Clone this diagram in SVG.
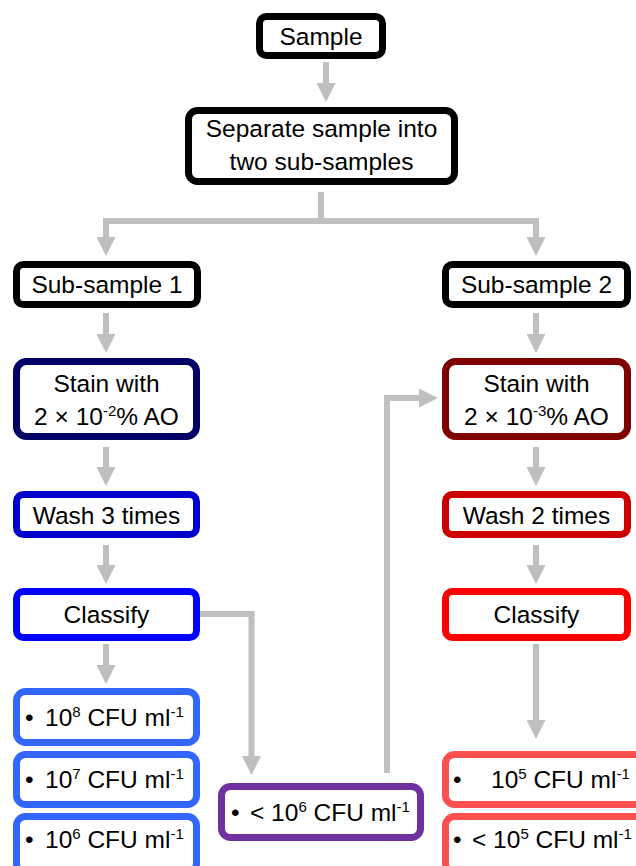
<svg xmlns="http://www.w3.org/2000/svg" width="636" height="866" viewBox="0 0 636 866">
<defs>
<style>
text{font-family:"Liberation Sans",Arial,sans-serif;font-size:24.5px;fill:#000;text-anchor:middle}
.l{text-anchor:start}
.sup{font-size:15px}
rect{fill:#fff;stroke-width:7}
.k{stroke:#000}
.c{fill:none;stroke:#bfbfbf;stroke-width:6}
</style>
<marker id="ah" markerUnits="userSpaceOnUse" markerWidth="19" markerHeight="19" refX="8" refY="9.5" orient="auto">
<path d="M0,0 L19,9.5 L0,19 z" fill="#bfbfbf"/>
</marker>
</defs>
<rect width="636" height="866" fill="#fff" stroke="none"/>
<g id="connectors">
<path class="c" d="M326,62 V91" marker-end="url(#ah)"/>
<path class="c" d="M321,192 V221"/>
<path class="c" d="M106,221 H536"/>
<path class="c" d="M106,218 V245" marker-end="url(#ah)"/>
<path class="c" d="M536,218 V245" marker-end="url(#ah)"/>
<path class="c" d="M106,313 V342" marker-end="url(#ah)"/>
<path class="c" d="M536,313 V342" marker-end="url(#ah)"/>
<path class="c" d="M106,447 V475" marker-end="url(#ah)"/>
<path class="c" d="M536,447 V475" marker-end="url(#ah)"/>
<path class="c" d="M106,545 V573" marker-end="url(#ah)"/>
<path class="c" d="M536,545 V573" marker-end="url(#ah)"/>
<path class="c" d="M106,644 V673" marker-end="url(#ah)"/>
<path class="c" d="M536,644 V728" marker-end="url(#ah)"/>
<path class="c" d="M200,614 H251.5 V764" marker-end="url(#ah)"/>
<path class="c" d="M387,773 V398 H427" marker-end="url(#ah)"/>
</g>
<g id="sample"><rect class="k" x="259.5" y="16.5" width="123" height="39" rx="7"/><text x="321" y="45">Sample</text></g>
<g id="separate"><rect class="k" x="188.5" y="110.5" width="266" height="71" rx="9"/><text x="321.5" y="137">Separate sample into</text><text x="321.5" y="170">two sub-samples</text></g>
<g id="sub1"><rect class="k" x="16.5" y="264.5" width="181" height="40" rx="7"/><text x="107" y="293">Sub-sample 1</text></g>
<g id="sub2"><rect class="k" x="445.5" y="264.5" width="182" height="40" rx="7"/><text x="536.5" y="293">Sub-sample 2</text></g>
<g id="stain1"><rect x="16.5" y="361.5" width="180" height="75" rx="10" stroke="#000066"/><text x="106.5" y="392">Stain with</text><text x="106.5" y="425">2 × 10<tspan class="sup" dy="-9">-2</tspan><tspan dy="9">% AO</tspan></text></g>
<g id="stain2"><rect x="445.5" y="361.5" width="182" height="75" rx="10" stroke="#7f0000"/><text x="536.5" y="392">Stain with</text><text x="536.5" y="425">2 × 10<tspan class="sup" dy="-9">-3</tspan><tspan dy="9">% AO</tspan></text></g>
<g id="wash1"><rect x="16.5" y="494.5" width="180" height="40" rx="7" stroke="#0000cc"/><text x="106.5" y="524">Wash 3 times</text></g>
<g id="wash2"><rect x="445.5" y="494.5" width="182" height="40" rx="7" stroke="#cc0000"/><text x="536.5" y="524">Wash 2 times</text></g>
<g id="classify1"><rect x="16.5" y="591.5" width="180" height="46" rx="7" stroke="#0000ff"/><text x="106.5" y="623">Classify</text></g>
<g id="classify2"><rect x="445.5" y="591.5" width="182" height="46" rx="7" stroke="#ff0000"/><text x="536.5" y="623">Classify</text></g>
<g id="r108"><rect x="16.5" y="691.5" width="180" height="51" rx="9" stroke="#3366ff"/><text class="l" x="25" y="726">•<tspan x="45">10</tspan><tspan class="sup" dy="-9">8</tspan><tspan dy="9"> CFU ml</tspan><tspan class="sup" dy="-9">-1</tspan></text></g>
<g id="r107"><rect x="16.5" y="754.5" width="180" height="50" rx="9" stroke="#3366ff"/><text class="l" x="25" y="788">•<tspan x="45">10</tspan><tspan class="sup" dy="-9">7</tspan><tspan dy="9"> CFU ml</tspan><tspan class="sup" dy="-9">-1</tspan></text></g>
<g id="r106"><rect x="16.5" y="816.5" width="180" height="56" rx="9" stroke="#3366ff"/><text class="l" x="25" y="848">•<tspan x="45">10</tspan><tspan class="sup" dy="-9">6</tspan><tspan dy="9"> CFU ml</tspan><tspan class="sup" dy="-9">-1</tspan></text></g>
<g id="purple"><rect x="221.5" y="786.5" width="199" height="51" rx="9" stroke="#7030a0"/><text class="l" x="231" y="821">•<tspan x="250">&lt; 10</tspan><tspan class="sup" dy="-9">6</tspan><tspan dy="9"> CFU ml</tspan><tspan class="sup" dy="-9">-1</tspan></text></g>
<g id="r105"><rect x="445.5" y="754.5" width="200" height="50" rx="9" stroke="#ff5050"/><text class="l" x="453" y="788">•<tspan x="491">10</tspan><tspan class="sup" dy="-9">5</tspan><tspan dy="9"> CFU ml</tspan><tspan class="sup" dy="-9">-1</tspan></text></g>
<g id="rlt105"><rect x="445.5" y="816.5" width="200" height="56" rx="9" stroke="#ff5050"/><text class="l" x="453" y="848">•<tspan x="472">&lt; 10</tspan><tspan class="sup" dy="-9">5</tspan><tspan dy="9"> CFU ml</tspan><tspan class="sup" dy="-9">-1</tspan></text></g>
</svg>
